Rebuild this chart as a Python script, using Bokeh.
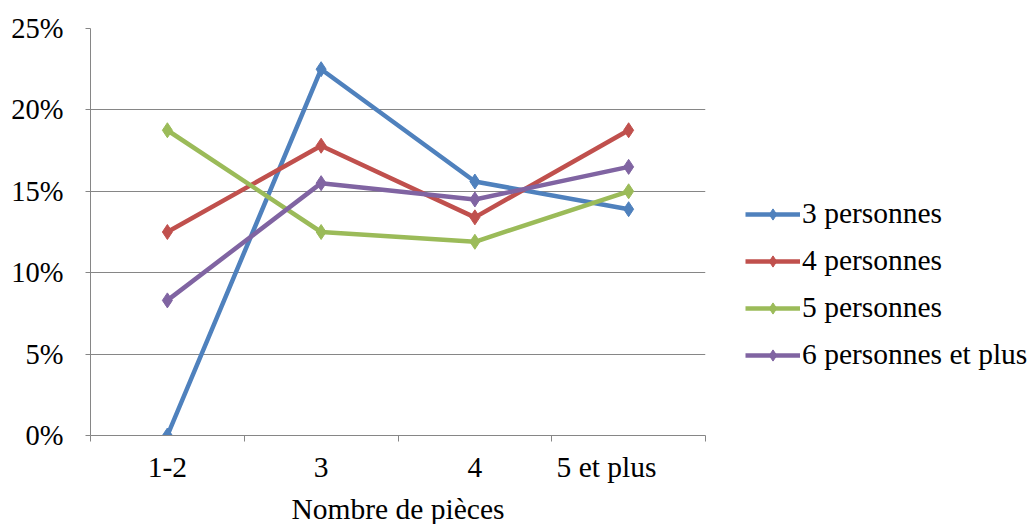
from bokeh.plotting import figure
from bokeh.models import FixedTicker, NumeralTickFormatter, Legend, LegendItem, Range1d
from bokeh.embed import file_html
from bokeh.resources import INLINE

# Share of households by number of rooms, per household size
categories = ["1-2", "3", "4", "5 et plus"]
series_names = ["3 personnes", "4 personnes", "5 personnes", "6 personnes et plus"]
pers3 = [0.0, 0.225, 0.156, 0.139]
pers4 = [0.125, 0.178, 0.134, 0.1875]
pers5 = [0.1875, 0.125, 0.119, 0.150]
pers6 = [0.083, 0.155, 0.145, 0.165]
y_ticks = [0.0, 0.05, 0.10, 0.15, 0.20, 0.25]

colors = ["#4F81BD", "#C0504D", "#9BBB59", "#8064A2"]
FONT = "Liberation Serif"
GRID = "#868686"
FS = "29.5px"

xs = [i + 0.5 for i in range(len(categories))]

p = figure(width=1027, height=524, output_backend="svg", toolbar_location=None,
           x_range=Range1d(0, len(categories)), y_range=Range1d(0, 0.25),
           min_border_left=90, min_border_right=322, min_border_top=28,
           min_border_bottom=89)
p.frame_width = 615
p.frame_height = 407
p.outline_line_color = None
p.background_fill_color = "white"
p.border_fill_color = "white"

# x axis: labels at category centres, ticks at category boundaries
tick_labels = {x: c for x, c in zip(xs, categories)}
# the last (widest) label sits a little to the left of its category centre
tick_labels[xs[-1]] = categories[-1] + "\u00a0" * 6
p.xaxis.ticker = FixedTicker(ticks=xs, minor_ticks=list(range(len(categories) + 1)))
p.xaxis.major_label_overrides = tick_labels
p.xaxis.major_tick_out = 0
p.xaxis.major_tick_in = 0
p.xaxis.minor_tick_out = 6
p.xaxis.minor_tick_in = 0
p.xaxis.minor_tick_line_color = GRID
p.xaxis.axis_line_color = GRID
p.xaxis.major_label_text_font = FONT
p.xaxis.major_label_text_font_size = FS
p.xaxis.major_label_text_color = "black"
p.xaxis.major_label_standoff = 9
p.xaxis.axis_label = "Nombre de pièces"
p.xaxis.axis_label_text_font = FONT
p.xaxis.axis_label_text_font_size = FS
p.xaxis.axis_label_text_font_style = "normal"
p.xaxis.axis_label_text_color = "black"
p.xaxis.axis_label_standoff = 7
p.xgrid.visible = False

# y axis in percent
p.yaxis.ticker = FixedTicker(ticks=y_ticks)
p.yaxis.formatter = NumeralTickFormatter(format="0%")
p.yaxis.major_tick_out = 5
p.yaxis.major_tick_in = 0
p.yaxis.minor_tick_line_color = None
p.yaxis.major_tick_line_color = GRID
p.yaxis.axis_line_color = GRID
p.yaxis.major_label_text_font = FONT
p.yaxis.major_label_text_font_size = "28.5px"
p.yaxis.major_label_text_color = "black"
p.yaxis.major_label_standoff = 22
p.ygrid.ticker = FixedTicker(ticks=y_ticks)
p.ygrid.grid_line_color = GRID
p.ygrid.grid_line_width = 1

items = []
for name, vals, col in zip(series_names, [pers3, pers4, pers5, pers6], colors):
    ln = p.line(xs, vals, line_color=col, line_width=4.5)
    mk = p.scatter(xs, vals, marker="diamond", size=15, fill_color=col, line_color=col)
    items.append(LegendItem(label=name, renderers=[ln, mk]))

legend = Legend(items=items, location=(40, 64))
legend.label_text_font = FONT
legend.label_text_font_size = FS
legend.label_text_color = "black"
legend.glyph_width = 55
legend.glyph_height = 28
legend.label_height = 28
legend.spacing = 14
legend.label_standoff = 2
legend.padding = 0
legend.margin = 0
legend.border_line_color = None
legend.background_fill_alpha = 0
p.add_layout(legend, "right")

open("out.html", "w").write(file_html(p, INLINE))
